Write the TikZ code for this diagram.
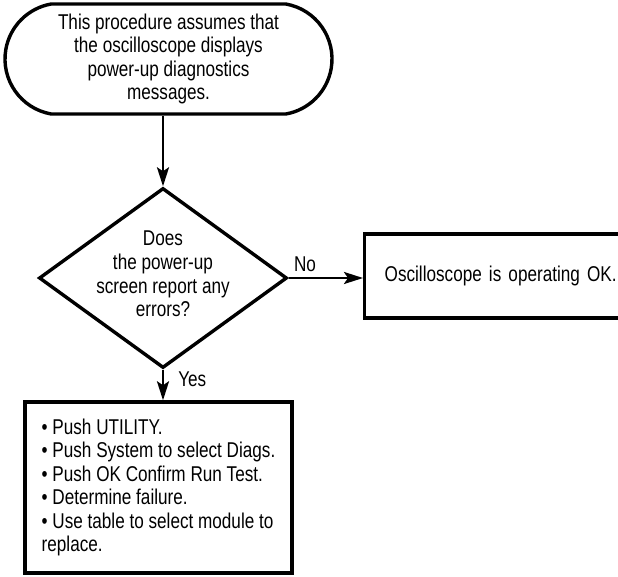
\documentclass[tikz,border=0pt]{standalone}
\usepackage{fontspec}
\setmainfont{Liberation Sans}[FakeStretch=0.8]
\usetikzlibrary{shapes.geometric,shapes.misc,arrows.meta}
\spaceskip=4.4bp plus 2bp minus 1bp

\begin{document}
\begin{tikzpicture}[x=1bp, y=-1bp,
    every node/.style={font=\fontsize{21.5}{23.6}\selectfont},
    startbox/.style={rounded rectangle, rounded rectangle arc length=160, draw, line width=3.4bp, minimum width=327bp, minimum height=110bp, inner sep=0pt, align=center},
    decision/.style={diamond, draw, line width=3.4bp, minimum width=248bp, minimum height=180bp, inner sep=0pt},
    actbox/.style={rectangle, draw, line width=3.4bp, align=left},
    flow/.style={line width=2.6bp, -{Stealth[length=19bp, width=12bp, inset=4bp]}}]
    \useasboundingbox (0,0) rectangle (618,577);

    %start of the procedure
    \node[startbox] (start) at (168.5,59) {This procedure assumes that\\the oscilloscope displays\\power-up diagnostics\\messages.};

    %question
    \node[decision] (q) at (163,278) {};
    \node[align=center, inner sep=0pt] (qtext) at (163,274) {Does\\the power-up\\screen report any\\errors?};

    %no errors
    \node[actbox, anchor=west, minimum height=84bp, inner xsep=20bp, text width=235bp] (ok) at (363,276) {Oscilloscope is operating OK.};

    %errors: run the diagnostics
    \node[actbox, minimum width=267bp, minimum height=171bp, inner xsep=12bp] (diag) at (158.5,487.5) {\textbullet\ Push UTILITY.\\\textbullet\ Push System to select Diags.\\\textbullet\ Push OK Confirm Run Test.\\\textbullet\ Determine failure.\\\textbullet\ Use table to select module to\\replace.};

    %connectors
    \draw[flow] (start.south -| q.north) -- (q.north);
    \draw[flow] (q.east) -- node[above, pos=0.22, inner sep=5bp] (no) {No} (q.east -| ok.west);
    \draw[flow] (q.south) -- node[right, pos=0.3, xshift=12bp, inner sep=2bp] (yes) {Yes} (q.south |- diag.north);
\end{tikzpicture}
\end{document}
